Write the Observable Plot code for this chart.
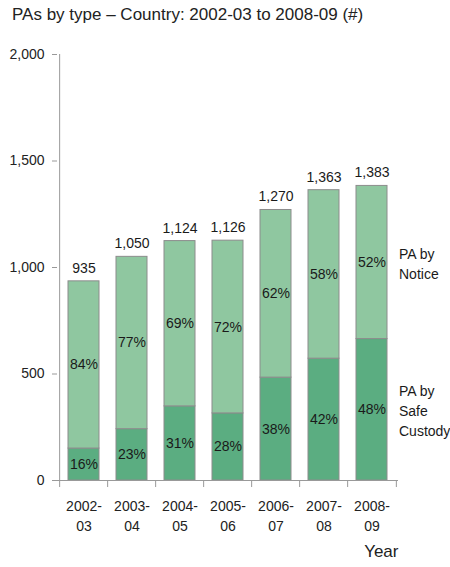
<!DOCTYPE html>
<html><head><meta charset="utf-8">
<script src="https://cdn.jsdelivr.net/npm/d3@7"></script>
<script src="https://cdn.jsdelivr.net/npm/@observablehq/plot@0.6"></script>
<style>
body{margin:0;background:#fff;font-family:"Liberation Sans",Arial,sans-serif}
#wrap{position:relative;width:450px;height:567px}
#title{position:absolute;left:12px;top:5px;font-size:17px;color:#222;white-space:nowrap;z-index:2}
#chart{position:absolute;left:0;top:0}
</style></head><body>
<div id="wrap"><div id="title">PAs by type – Country: 2002-03 to 2008-09 (#)</div><div id="chart"></div></div>
<script>
const years = ["2002-03","2003-04","2004-05","2005-06","2006-07","2007-08","2008-09"];
const totals = [935,1050,1124,1126,1270,1363,1383];
const safeCustody = [150,241,348,315,483,572,664];
const safePct = [16,23,31,28,38,42,48];
const noticePct = [84,77,69,72,62,58,52];
const seriesNames = ["PA by\nSafe\nCustody","PA by\nNotice"];
const yTicks = [0,500,1000,1500,2000];
const colors = ["#5bad81","#8fc7a0"];

const rows = [];
years.forEach((yr,i)=>{
  rows.push({year:yr,type:seriesNames[0],value:safeCustody[i],pct:safePct[i]});
  rows.push({year:yr,type:seriesNames[1],value:totals[i]-safeCustody[i],pct:noticePct[i]});
});
const totalRows = years.map((yr,i)=>({year:yr,total:totals[i]}));

const W=450,H=567,mL=57,mR=52,mT=54,mB=87;
const step=(W-mL-mR)/years.length;
const font='"Liberation Sans",Arial,sans-serif';
const lastRows = rows.filter(d=>d.year===years[years.length-1]);
const fs=14;
const fmt=d3.format(",");

const chart = Plot.plot({
  width:W,height:H,marginLeft:mL,marginRight:mR,marginTop:mT,marginBottom:mB,
  style:{fontFamily:font,fontSize:fs+"px",color:"#222",background:"#fff"},
  x:{domain:years,paddingInner:0.36,paddingOuter:0.18},
  y:{domain:[0,2000]},
  color:{domain:seriesNames,range:colors},
  marks:[
    Plot.barY(rows,{x:"year",y:"value",fill:"type",z:"type",stroke:"#8c8c8c",strokeWidth:1,order:seriesNames}),
    Plot.text(rows,Plot.stackY({x:"year",y:"value",z:"type",order:seriesNames,text:d=>d.pct+"%",fill:"#1a1a1a",fontSize:fs})),
    Plot.text(totalRows,{x:"year",y:"total",text:d=>fmt(d.total),dy:-13,fill:"#1a1a1a",fontSize:fs}),
    Plot.text(lastRows,Plot.stackY({x:"year",y:"value",z:"type",order:seriesNames,text:"type",textAnchor:"start",dx:27,lineHeight:1.4,fill:"#1a1a1a",fontSize:fs})),
    Plot.ruleY([0],{stroke:"#999"}),
    Plot.ruleX([years[0]],{x:d=>d,dx:-step/2,y1:0,y2:2000,stroke:"#999"}),
    Plot.ruleX(years,{x:d=>d,dx:-step/2,y1:0,y2:-33,stroke:"#999"}),
    Plot.ruleX([years[years.length-1]],{x:d=>d,dx:step/2,y1:0,y2:-33,stroke:"#999"}),
    Plot.axisY({ticks:yTicks,tickFormat:fmt,tickSize:5,tickPadding:8,stroke:"#999",fill:"#222",fontSize:fs,label:null}),
    Plot.axisX({tickSize:0,tickPadding:16,tickFormat:d=>d.replace("-","-\n"),lineHeight:1.45,fill:"#222",fontSize:fs,label:null}),
    Plot.text(["Year"],{frameAnchor:"bottom-right",text:d=>d,dy:76,textAnchor:"end",fill:"#222",fontSize:17})
  ]
});
document.getElementById("chart").appendChild(chart);
</script>
</body></html>
